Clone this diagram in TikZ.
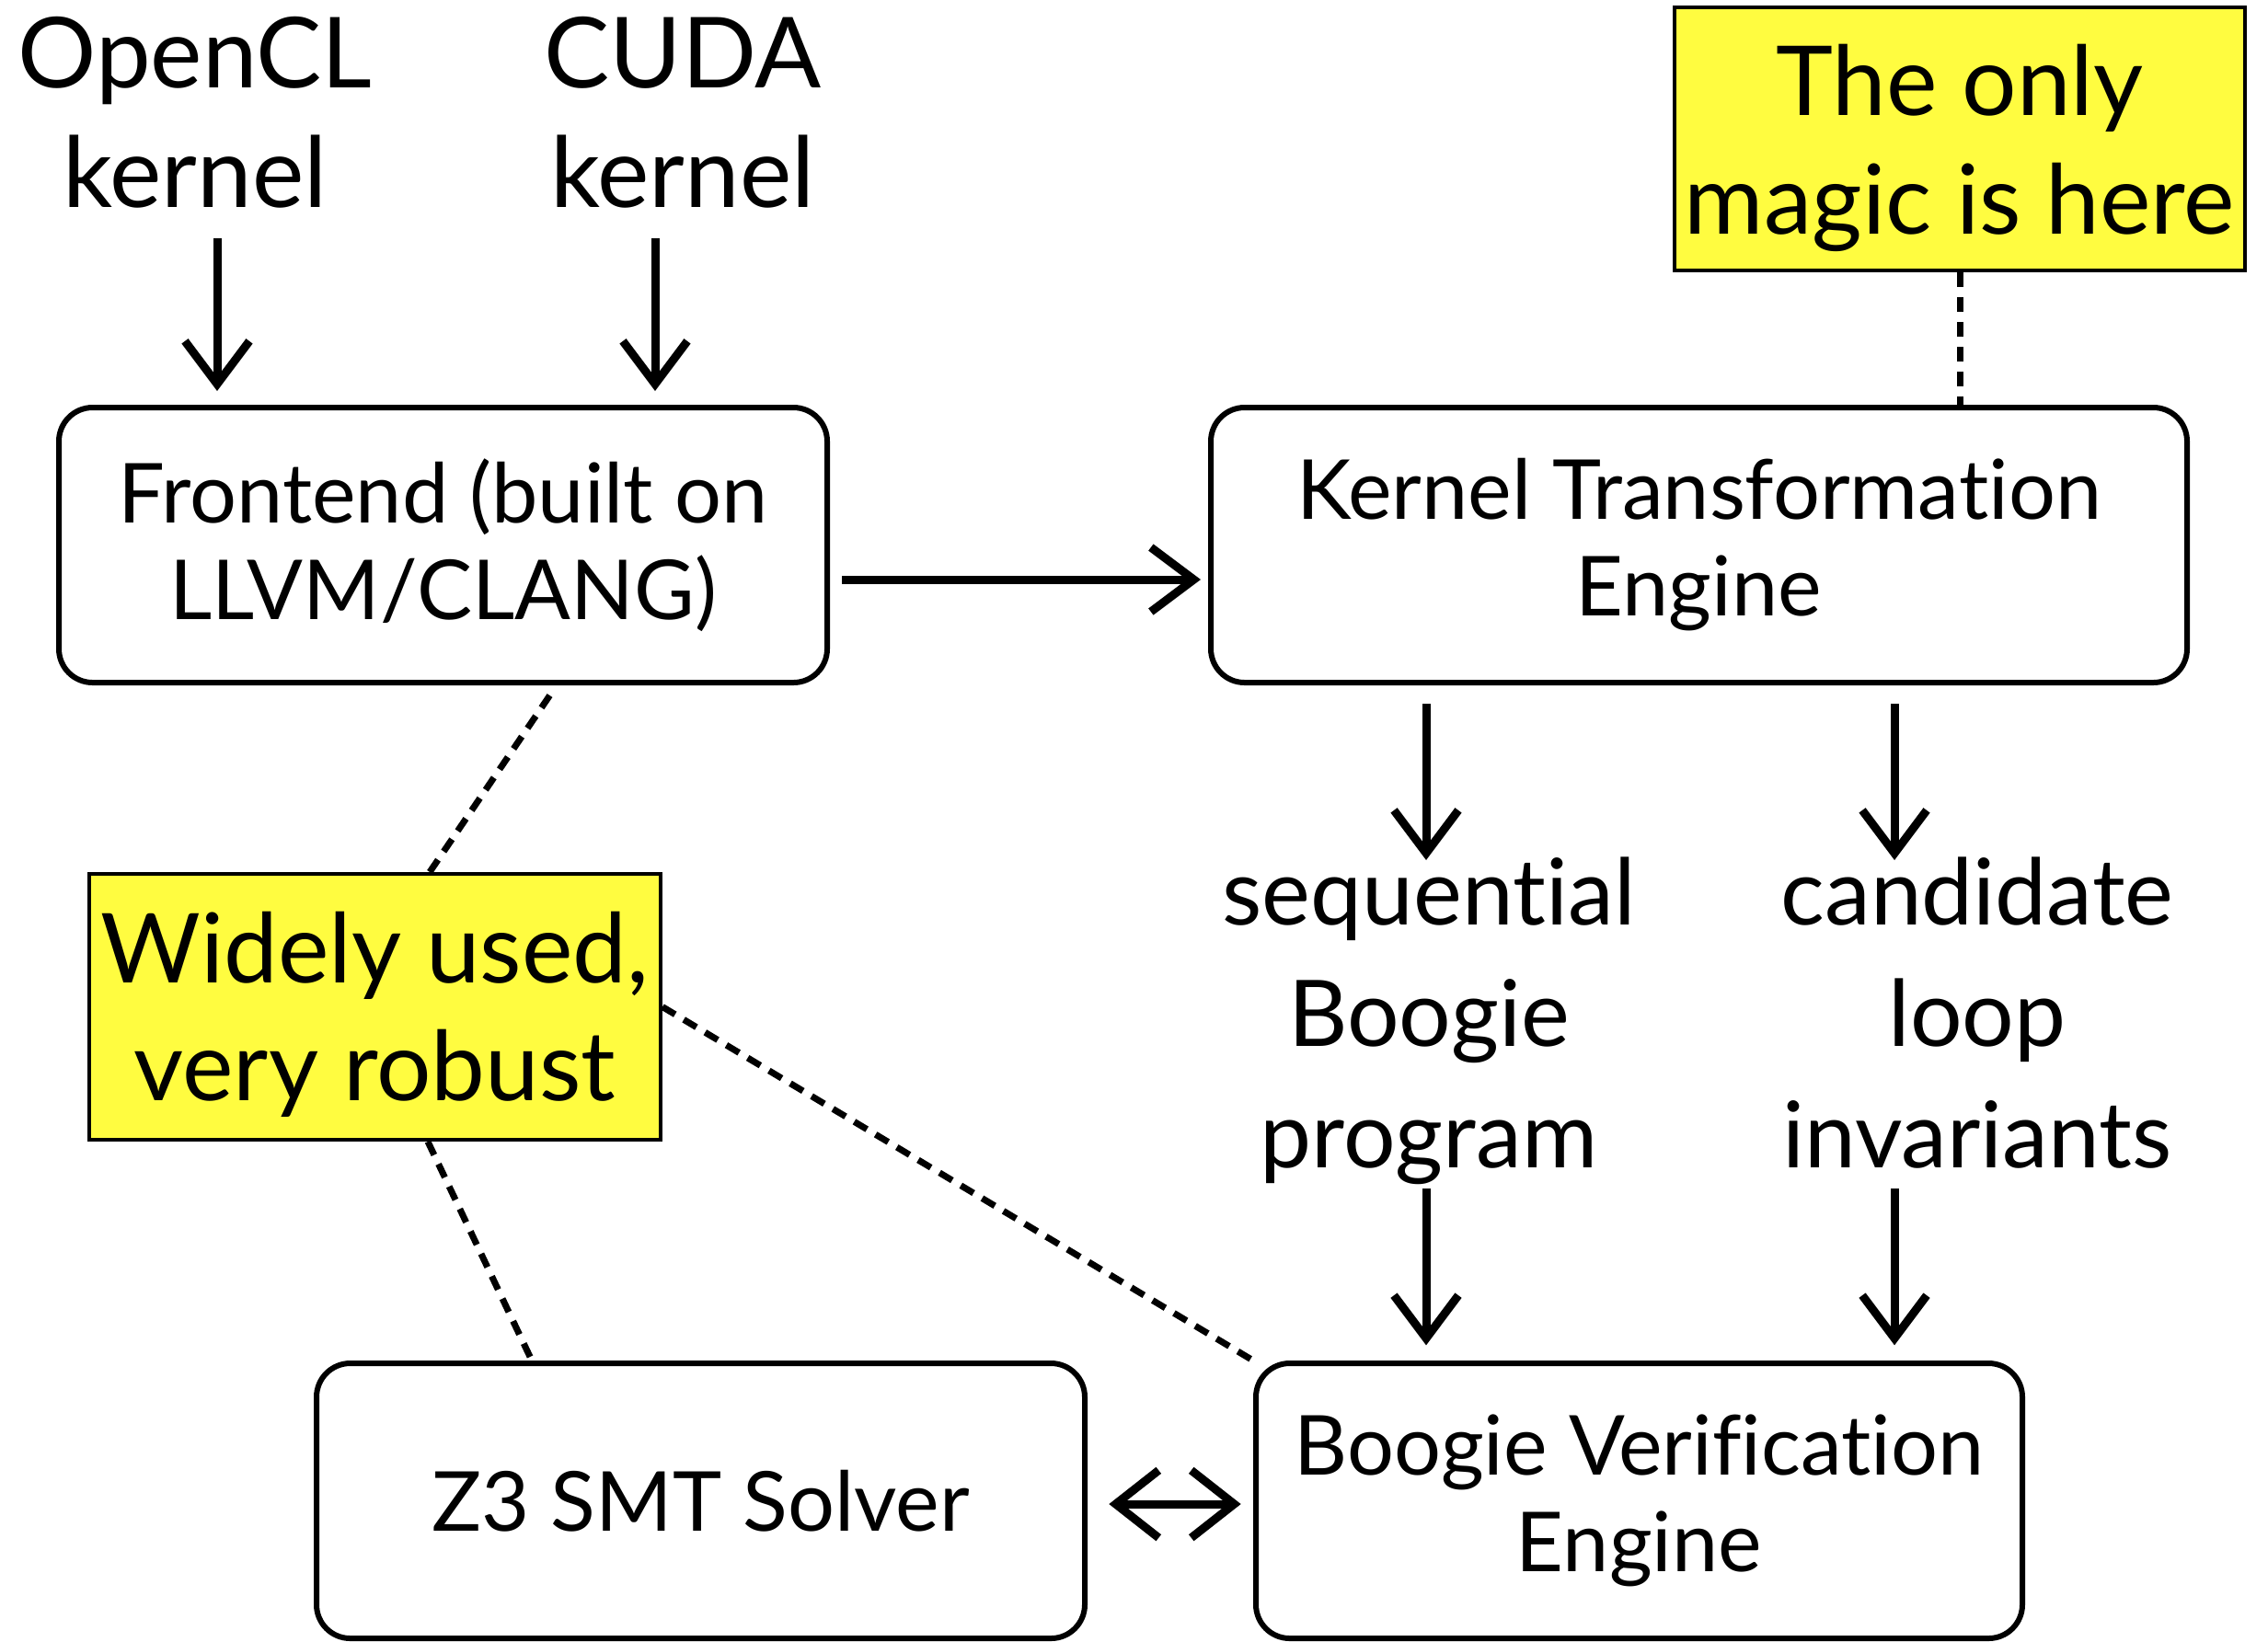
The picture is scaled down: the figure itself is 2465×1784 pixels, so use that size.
\documentclass[tikz,border=0pt]{standalone}
\usepackage{fontspec}
\setmainfont{Lato}[Ligatures={NoCommon,NoDiscretionary,NoRare}]
\usetikzlibrary{arrows.meta}
\definecolor{note}{RGB}{255,252,64}
\begin{document}
\begin{tikzpicture}[x=0.3pt,y=-0.3pt,
  box/.style={draw, line width=1.8pt, rounded corners=11pt, inner sep=0pt, align=center,
    font=\fontsize{27}{31.5}\selectfont},
  notebox/.style={draw, line width=1.2pt, fill=note, inner sep=0pt},
  notetext/.style={inner sep=0pt, align=center, font=\fontsize{31.5}{38.5}\selectfont},
  toplabel/.style={inner sep=0pt, align=center, font=\fontsize{32}{39}\selectfont},
  sidelabel/.style={inner sep=0pt, align=center, anchor=north, font=\fontsize{30}{39.6}\selectfont},
  arr/.style={line width=2.7pt, -{Straight Barb[length=14pt,width=21pt]}},
  dbl/.style={line width=2.7pt, {Straight Barb[length=14pt,width=22pt]}-{Straight Barb[length=14pt,width=22pt]}},
  dsh/.style={line width=2.1pt, dash pattern=on 4.8pt off 3.3pt}]
\useasboundingbox (0,0) rectangle (2465,1784);

\node[toplabel] (opencl) at (212,122) {OpenCL\\kernel};
\node[toplabel] (cuda) at (742,122) {CUDA\\kernel};

\node[box, minimum width=250.5pt, minimum height=89.7pt] (front) at (481.5,592.5) {Frontend (built on\\LLVM/CLANG)};
\node[box, minimum width=318.3pt, minimum height=89.7pt] (kte) at (1846.5,592.5) {Kernel Transformation\\Engine};
\node[box, minimum width=249.9pt, minimum height=89.7pt] (bve) at (1781.5,1631.5) {Boogie Verification\\Engine};
\node[box, minimum width=250.5pt, minimum height=89.7pt] (z3) at (761.5,1631.5) {Z3 SMT Solver};

\node[notebox, minimum width=186pt, minimum height=85.8pt,
  label={[notetext, yshift=-3pt]center:The only\\magic is here}] (magic) at (2130,151) {};
\node[notebox, minimum width=186.3pt, minimum height=86.7pt,
  label={[notetext, yshift=-2.5pt]center:Widely used,\\very robust}] (widely) at (407.5,1094.5) {};

\node[sidelabel] (seq) at (1553,931) {sequential\\Boogie\\program};
\node[sidelabel] (cand) at (2149,931) {candidate\\loop\\invariants};

\coordinate (oa) at (236,259);
\coordinate (ob) at (712,259);
\draw[arr, shorten >=4.5pt] (oa) -- (front.north -| oa);
\draw[arr, shorten >=4.5pt] (ob) -- (front.north -| ob);

\coordinate (hy) at (0,630);
\draw[arr, shorten <=3.9pt, shorten >=2.4pt] (front.east |- hy) -- (kte.west |- hy);

\coordinate (sa) at (1550,935);
\coordinate (sb) at (2059,935);
\draw[arr, shorten <=6pt] (kte.south -| sa) -- (sa);
\draw[arr, shorten <=6pt] (kte.south -| sb) -- (sb);
\coordinate (ta) at (1550,1292);
\coordinate (tb) at (2059,1292);
\draw[arr, shorten >=5pt] (ta) -- (bve.north -| ta);
\draw[arr, shorten >=5pt] (tb) -- (bve.north -| tb);

\coordinate (zy) at (0,1635);
\draw[dbl, shorten <=7pt, shorten >=4pt] (z3.east |- zy) -- (bve.west |- zy);

\draw[dsh] (magic.south) -- (kte.north -| magic.south);
\coordinate (f1) at (605,0);
\coordinate (w1) at (467,0);
\coordinate (w2) at (465,0);
\coordinate (z1) at (578,0);
\draw[dsh, shorten <=4pt] (front.south -| f1) -- (widely.north -| w1);
\draw[dsh] (widely.east) -- (bve.north west);
\draw[dsh] (widely.south -| w2) -- (z3.north -| z1);
\end{tikzpicture}
\end{document}
